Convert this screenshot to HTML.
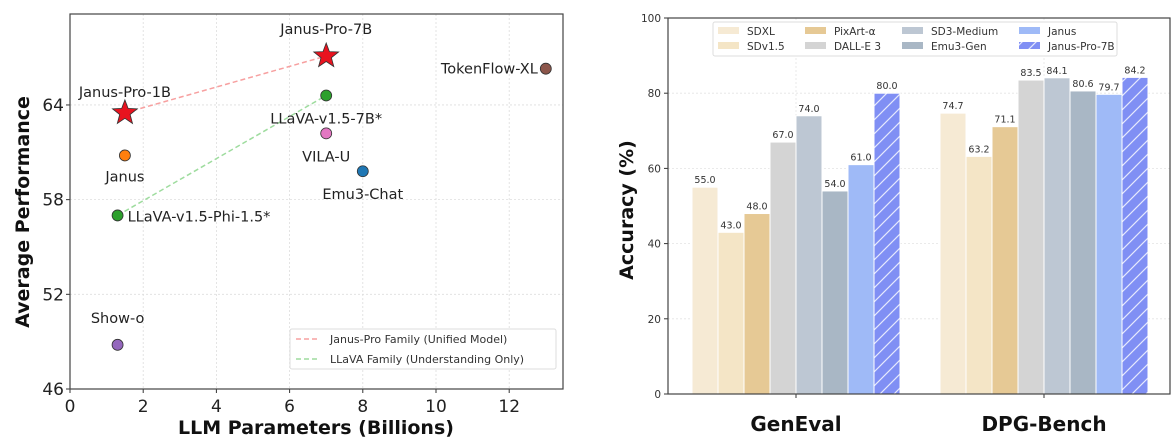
<!DOCTYPE html>
<html><head><meta charset="utf-8"><style>
body{margin:0;background:#fff;}
svg{display:block;font-family:"DejaVu Sans","Liberation Sans",sans-serif;}
</style></head><body>
<svg id="c" width="1173" height="441"></svg>
<script>
// Scatter data
const scNames=["Janus-Pro-7B","Janus-Pro-1B","TokenFlow-XL","LLaVA-v1.5-7B*","VILA-U","Janus","Emu3-Chat","LLaVA-v1.5-Phi-1.5*","Show-o"];
const scX=[7,1.5,13,7,7,1.5,8,1.3,1.3];
const scY=[67.1,63.5,66.3,64.6,62.2,60.8,59.8,57.0,48.8];
const scColors=["#e8131f","#e8131f","#8c564b","#2ca02c","#e377c2","#ff7f0e","#1f77b4","#2ca02c","#9467bd"];
const scTicksX=[0,2,4,6,8,10,12];
const scTicksY=[46,52,58,64];
// Bar data
const barGroups=["GenEval","DPG-Bench"];
const barSeries=["SDXL","SDv1.5","PixArt-α","DALL-E 3","SD3-Medium","Emu3-Gen","Janus","Janus-Pro-7B"];
const barGenEval=[55.0,43.0,48.0,67.0,74.0,54.0,61.0,80.0];
const barDPG=[74.7,63.2,71.1,83.5,84.1,80.6,79.7,84.2];
const barTicks=[0,20,40,60,80,100];
const barColors=["#f6ead4","#f4e5c6","#e6c995","#d4d4d4","#bdc7d3","#a9b7c5","#9fbaf7","#808ff4"];

const NS="http://www.w3.org/2000/svg";
const svg=document.getElementById('c');
function mk(t,a,p){const e=document.createElementNS(NS,t);for(const k in a)e.setAttribute(k,a[k]);(p||svg).appendChild(e);return e;}
function tx(s,a,p){const e=mk('text',a,p);e.textContent=s;return e;}

const defs=mk('defs',{});
const pat=mk('pattern',{id:'hatch',patternUnits:'userSpaceOnUse',width:14,height:14},defs);
mk('rect',{width:14,height:14,fill:'#808ff4'},pat);
mk('path',{d:'M-2,16 L16,-2 M-2,2 L2,-2 M12,16 L16,12',stroke:'#fff','stroke-width':1.2,opacity:0.8},pat);

// ---- Scatter ----
const L={x0:70,x1:563,y0:389,y1:14};
const sx=v=>70+v*36.6, sy=v=>389-(v-46)*15.78;
const g1=mk('g',{});


scTicksX.forEach(t=>{
  const l=mk('line',{x1:sx(t),x2:sx(t),y1:L.y1,y2:L.y0,stroke:'#ddd','stroke-dasharray':'2,2','stroke-width':0.8},g1);
  
  mk('line',{x1:sx(t),x2:sx(t),y1:L.y0,y2:L.y0+4,stroke:'#333'},g1);
  const e=tx(t,{x:sx(t),y:L.y0+23,'font-size':17,'text-anchor':'middle',fill:'#222'},g1);
  
});
scTicksY.forEach(t=>{
  const l=mk('line',{x1:L.x0,x2:L.x1,y1:sy(t),y2:sy(t),stroke:'#ddd','stroke-dasharray':'2,2','stroke-width':0.8},g1);
  
  mk('line',{x1:L.x0-4,x2:L.x0,y1:sy(t),y2:sy(t),stroke:'#333'},g1);
  const e=tx(t,{x:L.x0-6,y:sy(t)+6,'font-size':17,'text-anchor':'end',fill:'#222'},g1);
  
});
const fr=mk('rect',{x:L.x0,y:L.y1,width:L.x1-L.x0,height:L.y0-L.y1,fill:'none',stroke:'#444','stroke-width':1.2},g1);

const jl=mk('line',{x1:sx(scX[1]),y1:sy(scY[1]),x2:sx(scX[0]),y2:sy(scY[0]),stroke:'#f7a0a0','stroke-dasharray':'5,3','stroke-width':1.5},g1);

const ll=mk('line',{x1:sx(scX[7]),y1:sy(scY[7]),x2:sx(scX[3]),y2:sy(scY[3]),stroke:'#9edc9e','stroke-dasharray':'5,3','stroke-width':1.5},g1);

function star(cx,cy,R){let p=[];for(let i=0;i<10;i++){const r=i%2?R*0.42:R;const a=-Math.PI/2+i*Math.PI/5;p.push((cx+r*Math.cos(a)).toFixed(1)+','+(cy+r*Math.sin(a)).toFixed(1));}return p.join(' ');}
const lblOff=[[0,-22,'middle'],[0,-16,'middle'],[-8,5,'end'],[0,28,'middle'],[0,28,'middle'],[0,26,'middle'],[0,28,'middle'],[10,6,'start'],[0,-22,'middle']];
scNames.forEach((n,i)=>{
  const x=sx(scX[i]),y=sy(scY[i]);
  let m;
  if(i<2) m=mk('polygon',{points:star(x,y,13),fill:scColors[i],stroke:'#333','stroke-width':0.8},g1);
  else m=mk('circle',{cx:x,cy:y,r:5.5,fill:scColors[i],stroke:'#333','stroke-width':0.8},g1);
  
  
  const o=lblOff[i];
  const e=tx(n,{x:x+o[0],y:y+o[1],'font-size':14.5,'text-anchor':o[2],fill:'#222'},g1);
  
});
const lg=mk('g',{},g1);

mk('rect',{x:290,y:329,width:266,height:40,fill:'#fff',stroke:'#ddd',rx:2},lg);
mk('line',{x1:296,x2:318,y1:339,y2:339,stroke:'#f7a0a0','stroke-dasharray':'5,3','stroke-width':1.5},lg);
mk('line',{x1:296,x2:318,y1:359,y2:359,stroke:'#9edc9e','stroke-dasharray':'5,3','stroke-width':1.5},lg);
const le1=tx('Janus-Pro Family (Unified Model)',{x:330,y:343,'font-size':11,fill:'#333'},lg);

const le2=tx('LLaVA Family (Understanding Only)',{x:330,y:363,'font-size':11,fill:'#333'},lg);

const xt=tx('LLM Parameters (Billions)',{x:316,y:434,'font-size':19,'font-weight':'bold','text-anchor':'middle',fill:'#111'},g1);

const yt=tx('Average Performance',{x:0,y:0,'font-size':19,'font-weight':'bold','text-anchor':'middle',fill:'#111',transform:'translate(29,212) rotate(-90)'},g1);


// ---- Bars ----
const B={x0:668,x1:1170,y0:394,y1:18};
const by=v=>394-v*3.76;
const centers=[796,1044];const bw=26;
const g2=mk('g',{});

barTicks.forEach(t=>{
  if(t>0&&t<100){const l=mk('line',{x1:B.x0,x2:B.x1,y1:by(t),y2:by(t),stroke:'#e4e4e4','stroke-dasharray':'2,2','stroke-width':0.8},g2);
  }
  mk('line',{x1:B.x0-4,x2:B.x0,y1:by(t),y2:by(t),stroke:'#333'},g2);
  const e=tx(t,{x:B.x0-7,y:by(t)+4,'font-size':10.5,'text-anchor':'end',fill:'#333'},g2);
  
});
centers.forEach(c=>{mk('line',{x1:c,x2:c,y1:B.y1,y2:B.y0,stroke:'#e4e4e4','stroke-dasharray':'2,2','stroke-width':0.8},g2);
  mk('line',{x1:c,x2:c,y1:B.y0,y2:B.y0+4,stroke:'#333'},g2);});
[barGenEval,barDPG].forEach((vals,gi)=>{
  vals.forEach((v,i)=>{
    const x=centers[gi]-bw*4+i*bw;
    const r=mk('rect',{x:x,y:by(v),width:bw,height:by(0)-by(v),fill:i==7?'url(#hatch)':barColors[i],stroke:'#fff','stroke-width':1},g2);
    
    
    const e=tx(v.toFixed(1),{x:x+bw/2,y:by(v)-4,'font-size':9.5,'text-anchor':'middle',fill:'#333'},g2);
    
  });
  const gl=tx(barGroups[gi],{x:centers[gi],y:431,'font-size':20,'font-weight':'bold','text-anchor':'middle',fill:'#111'},g2);
  
});
mk('rect',{x:B.x0,y:B.y1,width:B.x1-B.x0,height:B.y0-B.y1,fill:'none',stroke:'#444','stroke-width':1.2},g2);
const lg2=mk('g',{},g2);

mk('rect',{x:713,y:22,width:404,height:34,fill:'#fff',stroke:'#ddd',rx:2},lg2);
const lcx=[718,805,902,1019];
barSeries.forEach((s,i)=>{
  const col=Math.floor(i/2),row=i%2;const y=31+row*15;
  mk('rect',{x:lcx[col],y:y-4,width:21,height:7,fill:i==7?'url(#hatch)':barColors[i]},lg2);
  const e=tx(s,{x:lcx[col]+29,y:y+4,'font-size':10.5,fill:'#333'},lg2);
  
});
const yt2=tx('Accuracy (%)',{x:0,y:0,'font-size':19,'font-weight':'bold','text-anchor':'middle',fill:'#111',transform:'translate(633,210) rotate(-90)'},g2);

</script>
</body></html>
